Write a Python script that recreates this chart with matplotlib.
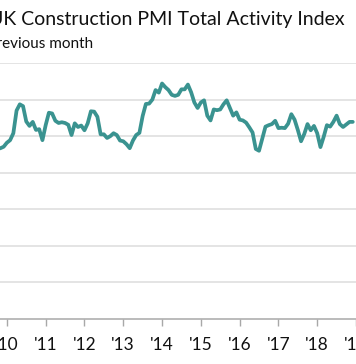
"""UK Construction PMI total activity index, monthly, cropped web-chart style."""

import matplotlib

matplotlib.use("Agg")
import matplotlib.pyplot as plt

# Monthly index values, Oct 2009 .. Dec 2018
START_YEAR = 2009
START_MONTH = 10
pmi = [
    46.5, 46.7, 47.1,                                                   # 2009 Q4
    48.2, 48.9, 50.8, 57.0, 58.7, 58.2, 54.0, 52.8, 53.9, 51.7, 51.9, 48.9,  # 2010
    53.0, 56.4, 56.2, 54.2, 53.6, 53.8, 53.6, 53.1, 50.3, 53.5, 52.5, 52.9,  # 2011
    51.6, 53.5, 56.8, 56.7, 55.3, 50.5, 50.5, 49.5, 50.0, 50.8, 50.3, 48.8,  # 2012
    48.6, 47.8, 46.7, 48.8, 50.3, 50.9, 55.5, 58.8, 58.9, 60.0, 62.6, 61.9,  # 2013
    64.4, 63.4, 62.6, 61.3, 61.0, 61.3, 62.8, 62.8, 64.1, 62.0, 59.2, 57.7,  # 2014
    59.2, 59.8, 55.6, 54.3, 57.3, 57.1, 57.3, 58.7, 59.8, 57.7, 55.6, 56.5,  # 2015
    54.5, 54.3, 53.7, 52.4, 51.0, 46.5, 46.0, 49.3, 52.6, 53.0, 53.3, 54.2,  # 2016
    52.2, 52.3, 52.2, 53.4, 56.0, 54.5, 51.7, 48.6, 50.6, 53.3, 51.6, 52.8,  # 2017
    50.8, 47.0, 49.8, 53.0, 52.6, 53.9, 55.6, 53.3, 52.5, 53.2, 53.9, 53.9,  # 2018
]
dates = [START_YEAR + (START_MONTH - 1 + i) / 12 for i in range(len(pmi))]

years = list(range(2010, 2020))
year_labels = [f"'{y % 100:02d}" for y in years]
y_grid = [10, 20, 30, 40, 50, 60, 70]

TITLE = "UK Construction PMI Total Activity Index"
SUBTITLE = "Index, 50 = no change on previous month"

LINE_COLOR = "#3a9390"
GRID_COLOR = "#dcdcdc"
AXIS_COLOR = "#a8a8a8"
TEXT_COLOR = "#111111"
FONT = ["Lato", "DejaVu Sans"]

W, H = 356, 364
fig = plt.figure(figsize=(W / 100, H / 100), dpi=100)
fig.patch.set_facecolor("white")

# axes spans full width; the chart is cropped on both sides
ax = fig.add_axes([0, (H - 319) / H, 1, (319 - 63) / H])
ax.plot(dates, pmi, color=LINE_COLOR, lw=2.7, solid_joinstyle="round",
        solid_capstyle="round", zorder=3)

ax.set_xlim(2010 - 7 / 39.5, 2010 + 349 / 39.5)
ax.set_ylim(0, 70)

for v in y_grid:
    ax.axhline(v, color=GRID_COLOR, lw=1.1, zorder=1)

ax.set_yticks([])
ax.set_xticks(years)
ax.set_xticklabels(year_labels, fontsize=12.5, family=FONT, color=TEXT_COLOR)
ax.tick_params(axis="x", length=5, width=1, color=AXIS_COLOR, pad=8)

for side in ("top", "left", "right"):
    ax.spines[side].set_visible(False)
ax.spines["bottom"].set_color(AXIS_COLOR)
ax.spines["bottom"].set_linewidth(1.1)
ax.set_facecolor("none")

fig.text(345 / W, (H - 25) / H, TITLE, ha="right", va="baseline",
         fontsize=14, family=FONT, color=TEXT_COLOR)
fig.text(93 / W, (H - 48) / H, SUBTITLE, ha="right", va="baseline",
         fontsize=11, family=FONT, color=TEXT_COLOR)

fig.savefig("out.png", dpi=100, facecolor="white")
